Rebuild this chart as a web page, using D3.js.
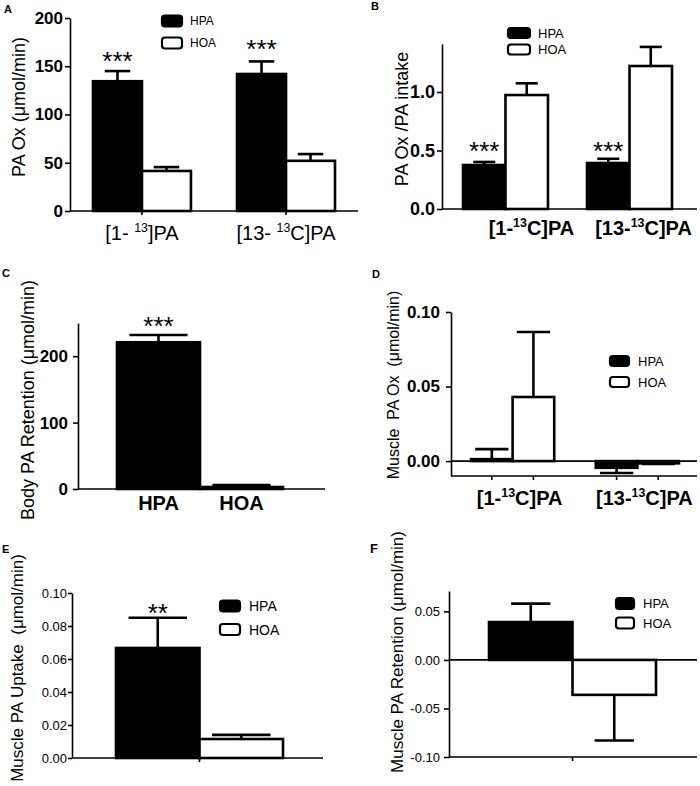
<!DOCTYPE html>
<html><head><meta charset="utf-8">
<script src="https://cdn.jsdelivr.net/npm/d3@7/dist/d3.min.js"></script>
<style>
body{margin:0;background:#fff}
svg{display:block}
text{font-family:"Liberation Sans",Arial,Helvetica,sans-serif;fill:#000}
</style>
</head><body>
<svg id="chart" width="700" height="786"></svg>
<script>
// ---------------- DATA ----------------
const series = ["HPA", "HOA"];

// Panel A: PA Ox (µmol/min)
const catsA = ["[1- ^13]PA", "[13- ^13C]PA"];
const hpaA = [134.5, 142];
const hpaErrA = [10.5, 13];
const hoaA = [41.5, 52];
const hoaErrA = [4, 7];
const ticksA = [0, 50, 100, 150, 200];

// Panel B: PA Ox / PA intake
const catsB = ["[1-^13C]PA", "[13-^13C]PA"];
const hpaB = [0.376, 0.393];
const hpaErrB = [0.026, 0.036];
const hoaB = [0.974, 1.222];
const hoaErrB = [0.10, 0.163];
const ticksB = [0, 0.5, 1.0];

// Panel C: Body PA Retention
const catsC = ["HPA", "HOA"];
const valuesC = [221, 3];
const errC = [11, 3];
const ticksC = [0, 100, 200];

// Panel D: Muscle PA Ox
const catsD = ["[1-^13C]PA", "[13-^13C]PA"];
const hpaD = [0.0013, -0.0045];
const hpaErrD = [0.0067, 0.0035];
const hoaD = [0.043, -0.0015];
const hoaErrD = [0.0436, 0.0004];
const ticksD = [0, 0.05, 0.10];

// Panel E: Muscle PA Uptake
const catsE = ["HPA", "HOA"];
const valuesE = [0.0667, 0.0115];
const errE = [0.0183, 0.0025];
const ticksE = [0, 0.02, 0.04, 0.06, 0.08, 0.10];

// Panel F: Muscle PA Retention
const catsF = ["HPA", "HOA"];
const valuesF = [0.039, -0.036];
const errF = [0.019, 0.047];
const ticksF = [-0.10, -0.05, 0, 0.05];

// ---------------- DRAWING ----------------
const svg = d3.select("#chart");
const fillOf = { HPA: "#000", HOA: "#fff" };

function richLabel(g, str, x, y, size, weight) {
  const t = g.append("text").attr("x", x).attr("y", y)
    .attr("text-anchor", "middle").attr("font-size", size).attr("font-weight", weight);
  const parts = str.split("^");
  t.append("tspan").text(parts[0]);
  if (parts.length > 1) {
    const m = parts[1].match(/^(\d+)(.*)$/);
    t.append("tspan").attr("font-size", size * 0.62).attr("dy", -size * 0.42).text(m[1]);
    t.append("tspan").attr("font-size", size).attr("dy", size * 0.42).text(m[2]);
  }
}

function panel(o) {
  const g = svg.append("g");
  const y = d3.scaleLinear().domain(o.yDomain).range(o.yRange);
  const bars = [];
  let xTicks = [];
  let labelPos = [];
  if (o.grouped) {
    const xg = d3.scaleBand().domain(o.cats).range(o.xRange).paddingInner(o.padInner).paddingOuter(0);
    const xs = d3.scaleBand().domain(series).range([0, xg.bandwidth()]);
    o.cats.forEach((c, i) => {
      bars.push({ s: "HPA", x: xg(c) + xs("HPA"), w: xs.bandwidth(), v: o.hpa[i], e: o.hpaErr[i], i });
      bars.push({ s: "HOA", x: xg(c) + xs("HOA"), w: xs.bandwidth(), v: o.hoa[i], e: o.hoaErr[i], i });
      labelPos.push(xg(c) + xg.bandwidth() / 2 + o.labelOffset[i]);
      if (o.tickMode === "group") xTicks.push(xg(c) + xg.bandwidth() / 2);
      if (o.tickMode === "bars") { xTicks.push(xg(c) + xs("HPA") + xs.bandwidth() / 2); xTicks.push(xg(c) + xs("HOA") + xs.bandwidth() / 2); }
    });
  } else {
    const x = d3.scaleBand().domain(o.cats).range(o.xRange);
    o.cats.forEach((c, i) => {
      bars.push({ s: c, x: x(c), w: x.bandwidth(), v: o.values[i], e: o.errs[i], i });
      labelPos.push(x(c) + x.bandwidth() / 2);
    });
    if (o.tickMode === "middle") xTicks.push(x(o.cats[1]));
  }

  // bars
  g.selectAll("rect.bar").data(bars).join("rect")
    .attr("x", d => d.x).attr("width", d => d.w)
    .attr("y", d => y(Math.max(0, d.v)))
    .attr("height", d => Math.max(0.01, Math.abs(y(d.v) - y(0))))
    .attr("fill", d => fillOf[d.s]).attr("stroke", "#000").attr("stroke-width", o.barStroke);

  // error bars
  bars.forEach(d => {
    const cx = d.x + d.w / 2;
    const end = d.v + (d.v >= 0 ? d.e : -d.e);
    const cw = d.w * o.capRatio;
    g.append("line").attr("x1", cx).attr("x2", cx).attr("y1", y(d.v)).attr("y2", y(end))
      .attr("stroke", "#000").attr("stroke-width", o.barStroke);
    g.append("line").attr("x1", cx - cw / 2).attr("x2", cx + cw / 2).attr("y1", y(end)).attr("y2", y(end))
      .attr("stroke", "#000").attr("stroke-width", o.barStroke);
  });

  // x axis line(s)
  const yb = y(o.yDomain[0]);
  g.append("line").attr("x1", o.yAxisX).attr("x2", o.xAxisEnd).attr("y1", yb).attr("y2", yb)
    .attr("stroke", "#000").attr("stroke-width", o.axisStroke);
  if (o.yDomain[0] < 0) {
    g.append("line").attr("x1", o.yAxisX).attr("x2", o.xAxisEnd).attr("y1", y(0)).attr("y2", y(0))
      .attr("stroke", "#000").attr("stroke-width", o.axisStroke);
  }
  xTicks.forEach(t => {
    g.append("line").attr("x1", t).attr("x2", t).attr("y1", yb).attr("y2", yb + 4)
      .attr("stroke", "#000").attr("stroke-width", o.axisStroke);
  });

  // y axis
  const ya = g.append("g").attr("transform", `translate(${o.yAxisX},0)`)
    .call(d3.axisLeft(y).tickValues(o.ticks).tickFormat(o.fmt).tickSize(o.tickLen).tickSizeOuter(0).tickPadding(o.tickPad));
  ya.select(".domain").attr("stroke-width", o.axisStroke);
  ya.selectAll(".tick line").attr("stroke-width", o.axisStroke);
  ya.selectAll(".tick text").attr("font-size", o.tickFont).attr("font-weight", o.tickWeight)
    .attr("font-family", '"Liberation Sans", Arial, Helvetica, sans-serif');

  // category labels
  if (o.showLabels) {
    o.cats.forEach((c, i) => richLabel(g, c, labelPos[i], o.labelY, o.labelFont, o.labelWeight));
  }

  // y label
  g.append("text").attr("transform", `translate(${o.yLabel[1]},${o.yLabel[2]}) rotate(-90)`)
    .attr("text-anchor", "middle").attr("dy", "0.35em").attr("font-size", o.yLabel[3])
    .style("white-space", "pre").text(o.yLabel[0]);

  // significance stars
  (o.stars || []).forEach(s => {
    const b = bars.find(d => d.s === "HPA" && d.i === s.i);
    g.append("text").attr("x", b.x + b.w / 2).attr("y", s.y).attr("text-anchor", "middle")
      .attr("font-size", 26).text(s.t);
  });

  // legend
  if (o.legend) {
    const L = o.legend;
    series.forEach((s, k) => {
      const cy = L.ys[k];
      g.append("rect").attr("x", L.x).attr("y", cy - L.h / 2).attr("width", L.w).attr("height", L.h)
        .attr("rx", 3).attr("fill", fillOf[s]).attr("stroke", "#000").attr("stroke-width", 2.2);
      g.append("text").attr("x", L.tx).attr("y", cy).attr("dy", "0.36em").attr("font-size", L.fs).text(s);
    });
  }

  // panel letter
  g.append("text").attr("x", o.letter[1]).attr("y", o.letter[2]).attr("font-size", o.letter[3])
    .attr("font-weight", "bold").text(o.letter[0]);
}

const f1 = d => String(d);
const f2 = d => (d < 0 ? "-" : "") + Math.abs(d).toFixed(2);
const f1d = d => d.toFixed(1);

panel({ grouped: true, cats: catsA, hpa: hpaA, hpaErr: hpaErrA, hoa: hoaA, hoaErr: hoaErrA,
  xRange: [93, 335], padInner: 0.32, yDomain: [0, 200], yRange: [211, 18], yAxisX: 70, xAxisEnd: 358,
  ticks: ticksA, fmt: f1, tickLen: 5, tickPad: 2, tickFont: 17, tickWeight: "bold",
  barStroke: 2.6, axisStroke: 1.6, capRatio: 0.52, tickMode: "group",
  showLabels: true, labelOffset: [0, 0], labelY: 240, labelFont: 20, labelWeight: "normal",
  yLabel: ["PA Ox (\u03bcmol/min)", 19, 107, 18],
  stars: [{ i: 0, y: 70, t: "***" }, { i: 1, y: 58, t: "***" }],
  legend: { x: 162, w: 20, h: 11, ys: [21, 43], tx: 190, fs: 12 },
  letter: ["A", 4, 13, 11] });

panel({ grouped: true, cats: catsB, hpa: hpaB, hpaErr: hpaErrB, hoa: hoaB, hoaErr: hoaErrB,
  xRange: [463, 672], padInner: 0.315, yDomain: [0, 1.41], yRange: [209, 44], yAxisX: 442, xAxisEnd: 697,
  ticks: ticksB, fmt: f1d, tickLen: 5, tickPad: 2, tickFont: 18, tickWeight: "bold",
  barStroke: 2.6, axisStroke: 1.6, capRatio: 0.52, tickMode: "none",
  showLabels: true, labelOffset: [26, 14], labelY: 235, labelFont: 20, labelWeight: "bold",
  yLabel: ["PA Ox /PA intake", 402, 119, 18],
  stars: [{ i: 0, y: 160, t: "***" }, { i: 1, y: 160, t: "***" }],
  legend: { x: 508, w: 22, h: 10, ys: [33, 49.5], tx: 538, fs: 13 },
  letter: ["B", 371, 10, 11] });

panel({ grouped: false, cats: catsC, values: valuesC, errs: errC,
  xRange: [117, 283], yDomain: [0, 250], yRange: [489, 323], yAxisX: 78, xAxisEnd: 325,
  ticks: ticksC, fmt: f1, tickLen: 5, tickPad: 5, tickFont: 17, tickWeight: "bold",
  barStroke: 2.6, axisStroke: 1.6, capRatio: 0.7, tickMode: "none",
  showLabels: true, labelY: 510, labelFont: 20, labelWeight: "bold",
  yLabel: ["Body PA Retention (\u03bcmol/min)", 28, 400, 18],
  stars: [{ i: 0, y: 335, t: "***" }],
  letter: ["C", 2, 277, 11] });

panel({ grouped: true, cats: catsD, hpa: hpaD, hpaErr: hpaErrD, hoa: hoaD, hoaErr: hoaErrD,
  xRange: [471, 679], padInner: 0.333, yDomain: [-0.01, 0.10], yRange: [476, 312], yAxisX: 451, xAxisEnd: 697,
  ticks: ticksD, fmt: f2, tickLen: 5, tickPad: 6, tickFont: 17, tickWeight: "bold",
  barStroke: 2.6, axisStroke: 1.6, capRatio: 0.8, tickMode: "bars",
  showLabels: true, labelOffset: [7, 7], labelY: 505, labelFont: 20, labelWeight: "bold",
  yLabel: ["Muscle  PA Ox  (\u03bcmol/min)", 393, 385, 16],
  legend: { x: 610, w: 19, h: 10, ys: [361, 382], tx: 638, fs: 13 },
  letter: ["D", 372, 278, 11] });

panel({ grouped: false, cats: catsE, values: valuesE, errs: errE,
  xRange: [116, 283], yDomain: [0, 0.10], yRange: [758, 593], yAxisX: 72, xAxisEnd: 323,
  ticks: ticksE, fmt: f2, tickLen: 4, tickPad: 1, tickFont: 13, tickWeight: "normal",
  barStroke: 2.6, axisStroke: 1.6, capRatio: 0.7, tickMode: "middle",
  showLabels: false,
  yLabel: ["Muscle PA Uptake  (\u03bcmol/min)", 17, 668, 17],
  stars: [{ i: 0, y: 622, t: "**" }],
  legend: { x: 220, w: 20, h: 11, ys: [606, 629.5], tx: 249, fs: 14 },
  letter: ["E", 2, 553, 11] });

panel({ grouped: false, cats: catsF, values: valuesF, errs: errF,
  xRange: [489, 656], yDomain: [-0.10, 0.071], yRange: [757, 591], yAxisX: 449, xAxisEnd: 697,
  ticks: ticksF, fmt: f2, tickLen: 5, tickPad: 4, tickFont: 13, tickWeight: "normal",
  barStroke: 2.6, axisStroke: 1.6, capRatio: 0.47, tickMode: "middle",
  showLabels: false,
  yLabel: ["Muscle PA Retention (\u03bcmol/min)", 397, 652, 17],
  legend: { x: 616, w: 18, h: 11, ys: [603.5, 623], tx: 643, fs: 13 },
  letter: ["F", 370, 553, 13] });
</script>
</body></html>
